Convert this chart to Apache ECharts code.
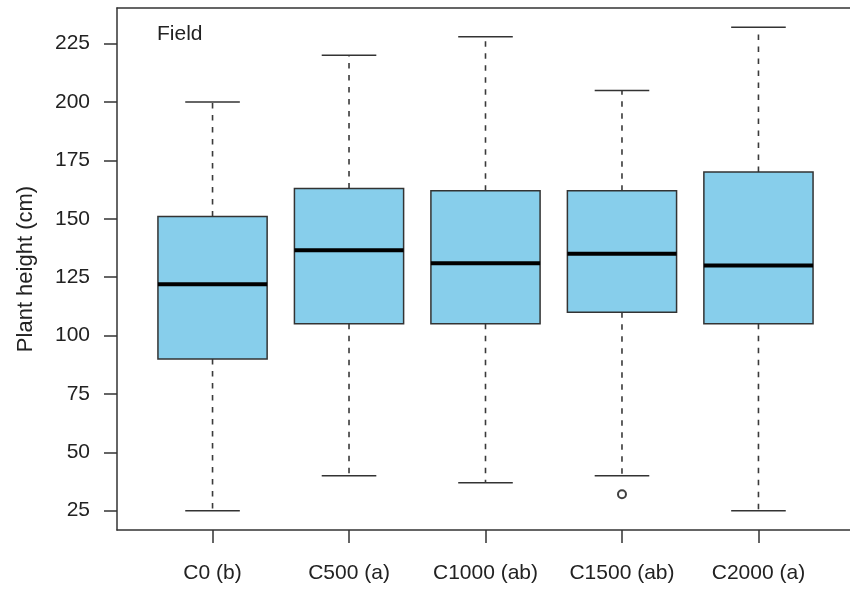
<!DOCTYPE html>
<html lang="en">
<head>
	<meta charset="UTF-8">
	<title>Plant height boxplot</title>
	<script type="text/javascript" src="https://cdn.jsdelivr.net/npm/echarts@6/dist/echarts.min.js"></script>
	<style>
		html,body{margin:0;padding:0;background:#fff;overflow:hidden;}
		/* canvas a bit wider than the window: the plot frame's right side falls outside the picture */
		#main{width:860px;height:590px;}
	</style>
</head>
<body>
	<div id="main"></div>
	<script type="text/javascript">
	// data
	var categories = ['C0 (b)', 'C500 (a)', 'C1000 (ab)', 'C1500 (ab)', 'C2000 (a)'];
	var lowerWhisker = [25, 40, 37, 40, 25];
	var q1 = [90, 105, 105, 110, 105];
	var median = [122, 136.5, 131, 135, 130];
	var q3 = [151, 163, 162, 162, 170];
	var upperWhisker = [200, 220, 228, 205, 232];
	var outliers = [[4, 32]];   // [group position, value]
	var yTicks = [25, 50, 75, 100, 125, 150, 175, 200, 225];
	var xTicks = [1, 2, 3, 4, 5];

	var font = "'Liberation Sans', Arial, sans-serif";
	var ink = '#222';
	var frame = {color: '#333', width: 1.5};

	var boxData = [];
	for (var i = 0; i < categories.length; i++) {
		boxData.push([i + 1, lowerWhisker[i], q1[i], median[i], q3[i], upperWhisker[i]]);
	}

	function renderBox(params, api) {
		var x = api.value(0);
		var halfBox = 0.4, halfCap = 0.2;
		var pLow = api.coord([x, api.value(1)]);
		var pQ1 = api.coord([x, api.value(2)]);
		var pMed = api.coord([x, api.value(3)]);
		var pQ3 = api.coord([x, api.value(4)]);
		var pHigh = api.coord([x, api.value(5)]);
		var bl = api.coord([x - halfBox, 0])[0];
		var br = api.coord([x + halfBox, 0])[0];
		var cl = api.coord([x - halfCap, 0])[0];
		var cr = api.coord([x + halfCap, 0])[0];
		var dash = {stroke: '#3a3a3a', lineWidth: 1.6, lineDash: [5.5, 6.5]};
		var solid = {stroke: '#333', lineWidth: 1.5};
		return {
			type: 'group',
			children: [
				{type: 'line', shape: {x1: pQ3[0], y1: pQ3[1], x2: pHigh[0], y2: pHigh[1]}, style: dash},
				{type: 'line', shape: {x1: pQ1[0], y1: pQ1[1], x2: pLow[0], y2: pLow[1]}, style: dash},
				{type: 'line', shape: {x1: cl, y1: pHigh[1], x2: cr, y2: pHigh[1]}, style: solid},
				{type: 'line', shape: {x1: cl, y1: pLow[1], x2: cr, y2: pLow[1]}, style: solid},
				{type: 'rect', shape: {x: bl, y: pQ3[1], width: br - bl, height: pQ1[1] - pQ3[1]},
					style: {fill: '#87CEEB', stroke: '#333', lineWidth: 1.5}},
				{type: 'line', shape: {x1: bl, y1: pMed[1], x2: br, y2: pMed[1]},
					style: {stroke: '#000', lineWidth: 4}}
			]
		};
	}

	var myChart = echarts.init(document.getElementById('main'));
	var option = {
		animation: false,
		backgroundColor: '#fff',
		textStyle: {fontFamily: font},
		title: {
			text: 'Field',
			left: 157,
			top: 24,
			padding: 0,
			textStyle: {fontFamily: font, fontSize: 21, fontWeight: 'normal', color: ink}
		},
		grid: {left: 117, top: 8, width: 737, bottom: 60, outerBoundsMode: 'none'},
		xAxis: [
			{
				type: 'value',
				min: 0.3,
				max: 5.7,
				splitLine: {show: false},
				axisLine: {show: true, onZero: false, lineStyle: frame},
				axisTick: {show: true, length: 13, customValues: xTicks, lineStyle: frame},
				axisLabel: {
					customValues: xTicks,
					margin: 33,
					fontSize: 21,
					color: ink,
					fontFamily: font,
					formatter: function (v) { return categories[Math.round(v) - 1]; }
				}
			},
			{
				// top edge of the frame
				type: 'value',
				position: 'top',
				min: 0.3,
				max: 5.7,
				splitLine: {show: false},
				axisLine: {show: true, onZero: false, lineStyle: frame},
				axisTick: {show: false},
				axisLabel: {show: false}
			}
		],
		yAxis: {
			type: 'value',
			min: 16.72,
			max: 240.28,
			name: 'Plant height (cm)',
			nameLocation: 'middle',
			nameGap: 80,
			nameRotate: 90,
			nameTextStyle: {fontSize: 22, color: ink, fontFamily: font},
			splitLine: {show: false},
			axisLine: {show: true, onZero: false, lineStyle: frame},
			axisTick: {show: true, length: 13, customValues: yTicks, lineStyle: frame},
			axisLabel: {
				customValues: yTicks,
				margin: 27,
				fontSize: 21,
				color: ink,
				fontFamily: font
			}
		},
		series: [
			{
				type: 'custom',
				renderItem: renderBox,
				data: boxData,
				encode: {x: 0, y: [1, 2, 3, 4, 5]},
				z: 2
			},
			{
				type: 'scatter',
				data: outliers,
				symbol: 'emptyCircle',
				symbolSize: 8,
				itemStyle: {color: '#111', borderColor: '#111', borderWidth: 1.5},
				z: 3
			}
		]
	};
	if (option && typeof option === "object") {
		myChart.setOption(option);
	}
	</script>
</body>
</html>
